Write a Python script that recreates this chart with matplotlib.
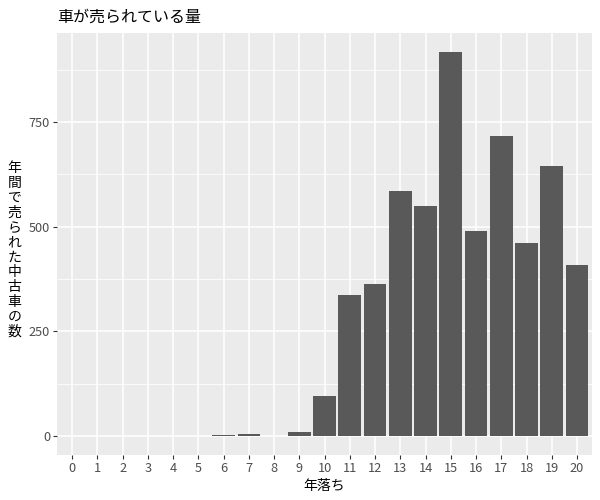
import numpy as np
import matplotlib
matplotlib.use('Agg')
import matplotlib.pyplot as plt

plt.rcParams['font.family'] = ['Noto Sans CJK JP', 'DejaVu Sans']

# 年落ち と 台数
years = list(range(0, 21))
counts = [0, 0, 0, 0, 0, 0, 2, 5, 0, 8, 95, 337, 363, 585, 549, 917, 490, 716, 461, 645, 408]
yticks = [0, 250, 500, 750]
yminor = [125, 375, 625, 875]

title = '車が売られている量'
xlabel = '年落ち'
ylabel = '年間で売られた中古車の数'

fig = plt.figure(figsize=(6, 5), dpi=100)
ax = fig.add_axes([0.095, 0.09, 0.892, 0.844])
ax.set_facecolor('#EBEBEB')

ax.bar(years, counts, width=0.9, color='#595959', zorder=3)

ymax = max(counts)
ax.set_ylim(-0.05 * ymax, 1.05 * ymax)
ax.set_xlim(-0.6, 20.6)

ax.set_yticks(yticks)
ax.set_yticks(yminor, minor=True)
ax.set_xticks(years)
ax.set_xticklabels([str(y) for y in years])

ax.grid(which='major', color='white', linewidth=1.1, zorder=0)
ax.grid(which='minor', axis='y', color='white', linewidth=0.55, zorder=0)
ax.set_axisbelow(True)

for s in ax.spines.values():
    s.set_visible(False)

ax.tick_params(which='major', length=3, width=0.8, color='#333333',
               labelcolor='#4D4D4D', labelsize=9.2, pad=2)
ax.tick_params(which='minor', length=0)

ax.set_xlabel(xlabel, fontsize=10, color='black', labelpad=3)
ax.set_title(title, loc='left', fontsize=11.5, pad=8)

fig.text(0.024, 0.5, '\n'.join(ylabel), ha='center', va='center',
         fontsize=10, linespacing=1.08)

fig.savefig('out.png', dpi=100)
